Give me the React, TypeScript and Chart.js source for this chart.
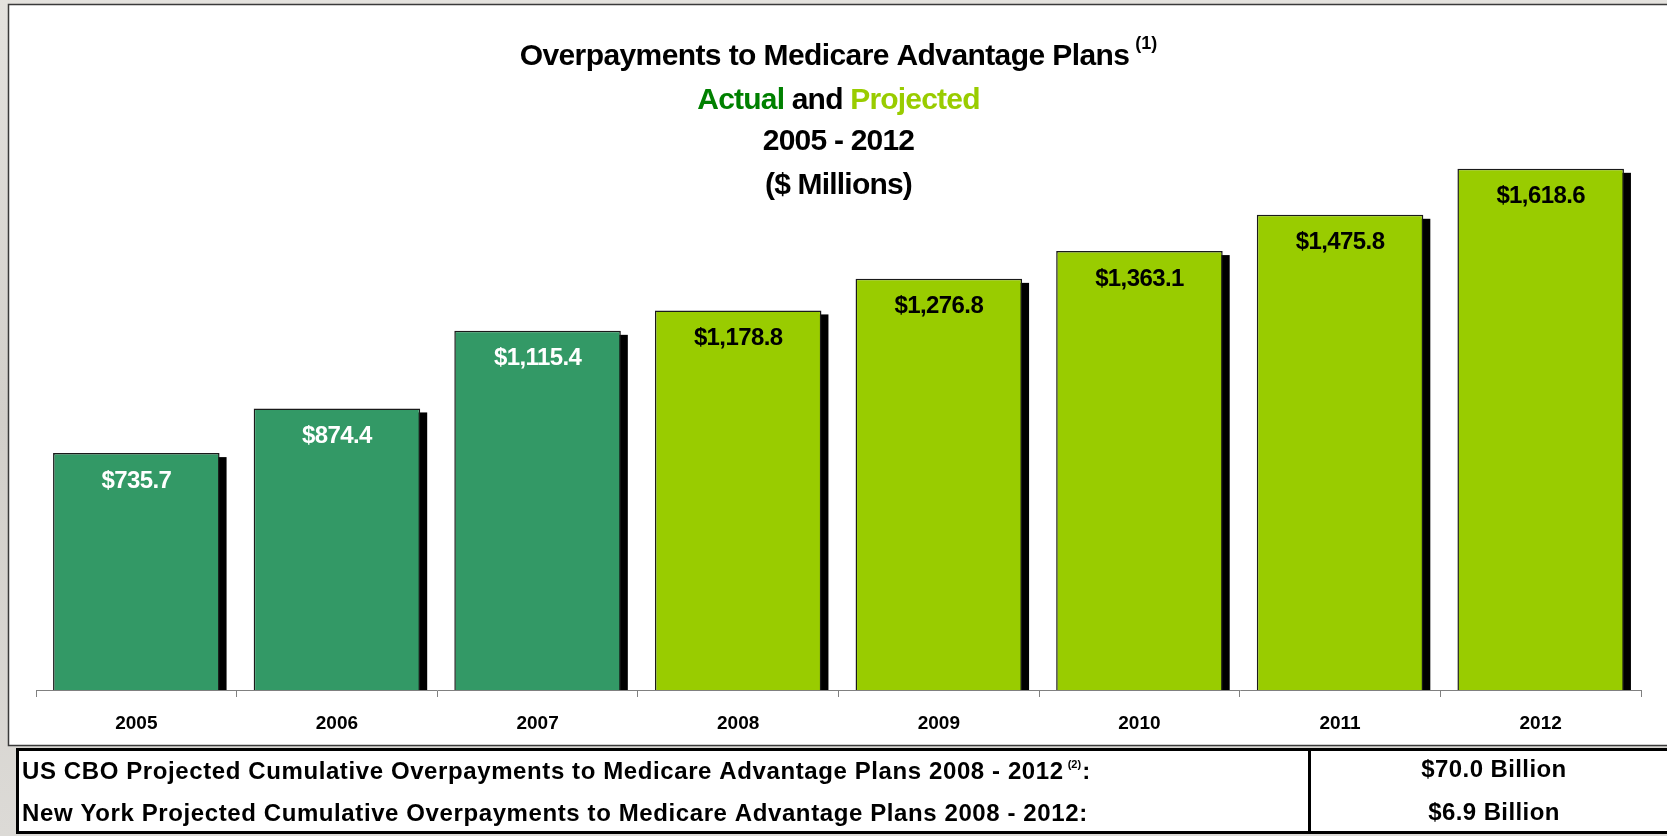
import React, { useEffect, useRef } from 'react';
import { Chart, registerables } from 'chart.js';

Chart.register(...registerables);

const W = 1667;
const H = 836;
const FONT = "'Liberation Sans', Arial, Helvetica, sans-serif";

// ---- data ----
const categories = ['2005', '2006', '2007', '2008', '2009', '2010', '2011', '2012'];
const values = [735.7, 874.4, 1115.4, 1178.8, 1276.8, 1363.1, 1475.8, 1618.6];
const actualFlags = [true, true, true, false, false, false, false, false];

const titleMain = 'Overpayments to Medicare Advantage Plans';
const titleNote = '(1)';
const subtitleParts = ['Actual', ' and ', 'Projected'];
const titleRange = '2005 - 2012';
const titleUnit = '($ Millions)';

const tableLabels = [
  'US CBO Projected Cumulative Overpayments to Medicare Advantage Plans 2008 - 2012',
  'New York Projected Cumulative Overpayments to Medicare Advantage Plans 2008 - 2012',
];
const tableNotes = ['(2)', ''];
const tableValues = ['$70.0 Billion', '$6.9 Billion'];

// ---- styles ----
const ACTUAL = '#339966';
const PROJECTED = '#99cc00';
const ACTUAL_TEXT = '#008000';

const fmt = (v: number) =>
  '$' + v.toLocaleString('en-US', { minimumFractionDigits: 1, maximumFractionDigits: 1 });

const backgroundPlugin = {
  id: 'bgFrame',
  beforeDraw(chart: any) {
    const ctx = chart.ctx as CanvasRenderingContext2D;
    ctx.save();
    const g = ctx.createLinearGradient(0, 0, 0, H);
    g.addColorStop(0, '#e4e2de');
    g.addColorStop(0.5, '#d2cfca');
    g.addColorStop(1, '#dcdad6');
    ctx.fillStyle = g;
    ctx.fillRect(0, 0, W, H);
    // main frame
    ctx.fillStyle = '#ffffff';
    ctx.fillRect(8, 4, W - 8, 742);
    ctx.strokeStyle = '#3a3a3a';
    ctx.lineWidth = 1.5;
    ctx.strokeRect(8.5, 4.5, W + 10, 741);
    // table box
    ctx.fillStyle = '#ffffff';
    ctx.fillRect(16, 748, W - 16, 85);
    ctx.strokeStyle = '#000000';
    ctx.lineWidth = 3;
    ctx.beginPath();
    ctx.moveTo(W + 5, 749.5);
    ctx.lineTo(17.5, 749.5);
    ctx.lineTo(17.5, 832.5);
    ctx.lineTo(W + 5, 832.5);
    ctx.moveTo(1309.5, 749.5);
    ctx.lineTo(1309.5, 832.5);
    ctx.stroke();
    ctx.restore();
  },
};

const shadowPlugin = {
  id: 'barShadow',
  beforeDatasetsDraw(chart: any) {
    const ctx = chart.ctx as CanvasRenderingContext2D;
    const meta = chart.getDatasetMeta(0);
    ctx.save();
    ctx.fillStyle = '#000000';
    meta.data.forEach((bar: any) => {
      const left = bar.x - bar.width / 2 + 7;
      const top = bar.y + 4;
      ctx.fillRect(left, top, bar.width, bar.base - top);
    });
    ctx.restore();
  },
};

const valueLabelPlugin = {
  id: 'valueLabels',
  afterDatasetsDraw(chart: any) {
    const ctx = chart.ctx as CanvasRenderingContext2D;
    const meta = chart.getDatasetMeta(0);
    ctx.save();
    ctx.font = `bold 24px ${FONT}`;
    (ctx as any).letterSpacing = '-0.6px';
    ctx.textAlign = 'center';
    ctx.textBaseline = 'middle';
    meta.data.forEach((bar: any, i: number) => {
      ctx.fillStyle = actualFlags[i] ? '#ffffff' : '#000000';
      ctx.fillText(fmt(values[i]), bar.x, bar.y + 28);
    });
    ctx.restore();
  },
};

const textPlugin = {
  id: 'titleTable',
  afterDraw(chart: any) {
    const ctx = chart.ctx as CanvasRenderingContext2D;
    const ca = chart.chartArea;
    const cx = (ca.left + ca.right) / 2;
    ctx.save();
    ctx.textBaseline = 'middle';
    ctx.fillStyle = '#000000';
    // line 1 (main + superscript note, centered together)
    ctx.font = `bold 18px ${FONT}`;
    (ctx as any).letterSpacing = '0px';
    const wn = ctx.measureText(titleNote).width;
    ctx.font = `bold 30px ${FONT}`;
    (ctx as any).letterSpacing = '-0.6px';
    const w1 = ctx.measureText(titleMain).width;
    const gap = 6;
    const x1 = cx - (w1 + gap + wn) / 2;
    ctx.textAlign = 'left';
    ctx.fillText(titleMain, x1, 57);
    ctx.font = `bold 18px ${FONT}`;
    (ctx as any).letterSpacing = '0px';
    ctx.fillText(titleNote, x1 + w1 + gap, 44);
    // line 2
    ctx.font = `bold 30px ${FONT}`;
    (ctx as any).letterSpacing = '-0.8px';
    const colors = [ACTUAL_TEXT, '#000000', PROJECTED];
    const widths = subtitleParts.map((p) => ctx.measureText(p).width);
    let x = cx - widths.reduce((a, b) => a + b, 0) / 2;
    subtitleParts.forEach((p, i) => {
      ctx.fillStyle = colors[i];
      ctx.fillText(p, x, 101);
      x += widths[i];
    });
    ctx.fillStyle = '#000000';
    ctx.textAlign = 'center';
    ctx.fillText(titleRange, cx, 142);
    ctx.fillText(titleUnit, cx, 186);

    // table
    const rowY = [772, 814];
    const valY = [770, 813];
    tableLabels.forEach((t, i) => {
      ctx.textAlign = 'left';
      ctx.font = `bold 24px ${FONT}`;
      (ctx as any).letterSpacing = '0.6px';
      ctx.fillText(t, 22, rowY[i]);
      let xx = 22 + ctx.measureText(t).width + 4;
      if (tableNotes[i]) {
        ctx.font = `bold 11px ${FONT}`;
        (ctx as any).letterSpacing = '0px';
        ctx.fillText(tableNotes[i], xx, rowY[i] - 7);
        xx += ctx.measureText(tableNotes[i]).width + 1;
        ctx.font = `bold 24px ${FONT}`;
        (ctx as any).letterSpacing = '0.6px';
      } else {
        xx -= 4;
      }
      ctx.fillText(':', xx, rowY[i]);
      ctx.textAlign = 'center';
      (ctx as any).letterSpacing = '0.4px';
      ctx.fillText(tableValues[i], 1494, valY[i]);
    });
    ctx.restore();
  },
};

export default function App() {
  const ref = useRef<HTMLCanvasElement>(null);
  useEffect(() => {
    const canvas = ref.current;
    if (!canvas) return;
    const chart = new Chart(canvas, {
      type: 'bar',
      data: {
        labels: categories,
        datasets: [
          {
            data: values,
            backgroundColor: actualFlags.map((a) => (a ? ACTUAL : PROJECTED)),
            borderColor: '#1a1a1a',
            borderWidth: 1.5,
            barPercentage: 0.83,
            categoryPercentage: 1,
          },
        ],
      },
      options: {
        responsive: false,
        animation: false,
        devicePixelRatio: 1,
        layout: { padding: { left: 36, right: 26, top: 46, bottom: 0 } },
        plugins: { legend: { display: false }, title: { display: false }, tooltip: { enabled: false } },
        scales: {
          x: {
            grid: { drawOnChartArea: false, drawTicks: true, tickLength: 7, color: '#808080', offset: true },
            border: { display: true, color: '#808080', width: 1 },
            ticks: { color: '#000000', font: { family: FONT, size: 19, weight: 'bold' }, padding: 15 },
            afterFit: (scale: any) => {
              scale.height = 146;
            },
          },
          y: { display: false, min: 0, max: 2000 },
        },
      },
      plugins: [backgroundPlugin, shadowPlugin, valueLabelPlugin, textPlugin],
    } as any);
    return () => chart.destroy();
  }, []);
  return (
    <div style={{ position: 'fixed', left: 0, top: 0, width: W, height: H }}>
      <canvas ref={ref} width={W} height={H} style={{ width: W, height: H, display: 'block' }} />
    </div>
  );
}
